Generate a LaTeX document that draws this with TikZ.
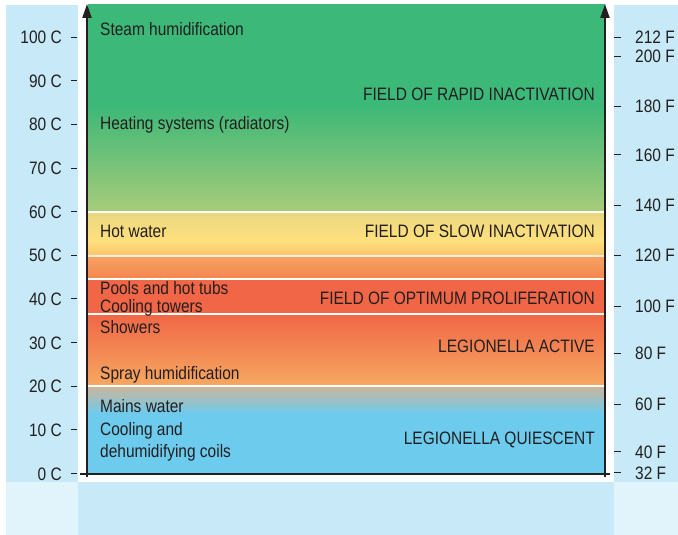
\documentclass[tikz,border=0pt]{standalone}
\usepackage{fontspec}
\setmainfont{Liberation Sans}[FakeStretch=0.86]
\usepackage{xcolor}
\usetikzlibrary{arrows.meta}

\definecolor{ink}{HTML}{231F20}
\definecolor{panel}{HTML}{C7E9F8}
\definecolor{panelpale}{HTML}{E2F4FB}
\definecolor{steam}{HTML}{3CB878}
\definecolor{lime}{HTML}{A8CC7A}
\definecolor{straw}{HTML}{E9D77E}
\definecolor{sun}{HTML}{FFE07E}
\definecolor{apricot}{HTML}{F9C46C}
\definecolor{peach}{HTML}{F7A262}
\definecolor{coral}{HTML}{F3864E}
\definecolor{flame}{HTML}{EC4C32}
\definecolor{ember}{HTML}{F06646}
\definecolor{sand}{HTML}{F6A962}
\definecolor{dust}{HTML}{CDB59A}
\definecolor{sky}{HTML}{6DCBEE}

\begin{document}
\begin{tikzpicture}[x=1pt,y=-1pt,
    lbl/.style={anchor=base west,inner sep=0pt,text=ink,font=\fontsize{18}{21.5}\selectfont},
    fld/.style={anchor=base east,inner sep=0pt,text=ink,font=\fontsize{18}{21.5}\selectfont},
    scl/.style={inner sep=0pt,text=ink,font=\fontsize{18}{21.5}\selectfont},
    tck/.style={draw=ink,line width=0.9pt},
    sep/.style={draw=white,line width=1.3pt},
    axis/.style={draw=ink,line width=2pt}]

\useasboundingbox (0,0) rectangle (678,535);

% side panels and bottom band
\fill[panel] (6,5) rectangle (78,482);
\fill[panelpale] (6,482) rectangle (78,535);
\fill[panel] (78,482) rectangle (614,535);
\fill[panel] (614,5) rectangle (678,482);
\fill[panelpale] (614,482) rectangle (678,535);

% temperature bands
\fill[steam] (88,4) rectangle (605,105);
\shade[top color=steam, bottom color=lime] (88,105) rectangle (605,212);
\shade[top color=straw, bottom color=sun] (88,212) rectangle (605,240);
\shade[top color=sun, bottom color=apricot] (88,240) rectangle (605,256);
\shade[top color=peach, bottom color=coral] (88,256) rectangle (605,279);
\shade[top color=ember, middle color=flame, bottom color=ember] (88,279) rectangle (605,314);
\shade[top color=ember, bottom color=sand] (88,314) rectangle (605,386);
\shade[top color=dust, bottom color=sky] (88,386) rectangle (605,414);
\fill[sky] (88,414) rectangle (605,473);

% band borders
\draw[sep] (88,212) -- (605,212);
\draw[sep, draw=white!80!peach] (88,256) -- (605,256);
\draw[sep] (88,279) -- (605,279);
\draw[sep] (88,314) -- (605,314);
\draw[sep] (88,386) -- (605,386);

% axes
\coordinate (ltop) at (87,4);
\coordinate (lbot) at (87,477);
\coordinate (rtop) at (605,4);
\coordinate (rbot) at (605,477);
\coordinate (bl) at (80,473.5);
\coordinate (br) at (610,473.5);
\draw[axis] (bl) -- (br);
\draw[axis, -{Triangle[length=14pt,width=9pt]}] (lbot) -- (ltop);
\draw[axis, -{Triangle[length=14pt,width=9pt]}] (rbot) -- (rtop);

% Celsius scale
\foreach \t in {0,10,...,100} {
  \draw[tck] (71,{473.5-4.365*\t}) -- (77,{473.5-4.365*\t});
  \node[scl, anchor=base east] (c\t) at (62,{473.5-4.365*\t+6.5}) {\t{} C};
}

% Fahrenheit scale
\foreach \f/\y in {212/37,200/56,180/106,160/154.5,140/205.3,120/255,100/306,80/353,60/404,40/451.7,32/472.5} {
  \draw[tck] (614,\y) -- (621,\y);
  \node[scl, anchor=base west] (f\f) at (635,\y+6.5) {\f{} F};
}

% uses
\node[lbl] (steam) at (100,36) {Steam humidification};
\node[lbl] (heating) at (100,129.5) {Heating systems (radiators)};
\node[lbl] (hotwater) at (100,237.3) {Hot water};
\node[lbl] (pools) at (100,294.3) {Pools and hot tubs};
\node[lbl] (towers) at (100,312.3) {Cooling towers};
\node[lbl] (showers) at (100,333.3) {Showers};
\node[lbl] (spray) at (100,379) {Spray humidification};
\node[lbl] (mains) at (100,412.3) {Mains water};
\node[lbl, align=left] (coils) at (100,457) {Cooling and\\dehumidifying coils};

% fields
\node[fld] (rapid) at (595,100.7) {FIELD OF RAPID INACTIVATION};
\node[fld] (slow) at (595,237.7) {FIELD OF SLOW INACTIVATION};
\node[fld] (optimum) at (595,304) {FIELD OF OPTIMUM PROLIFERATION};
\node[fld] (active) at (595,352.3) {LEGIONELLA ACTIVE};
\node[fld] (quiescent) at (595,444) {LEGIONELLA QUIESCENT};

\end{tikzpicture}
\end{document}
